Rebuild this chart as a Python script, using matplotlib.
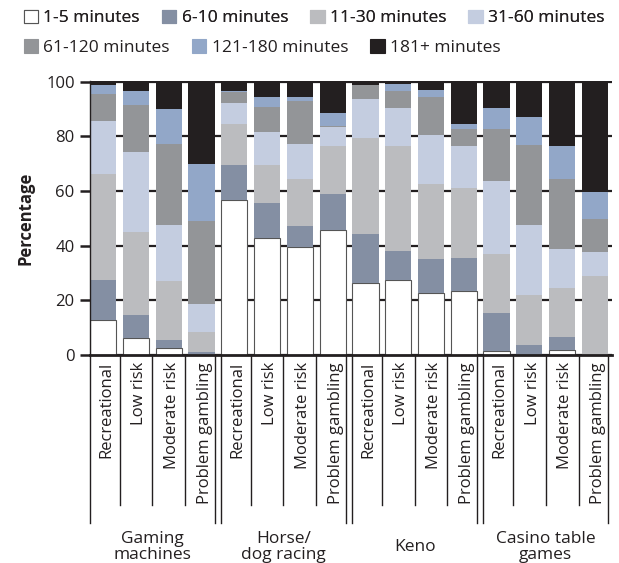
import numpy as np
import matplotlib
matplotlib.use("Agg")
import matplotlib.pyplot as plt
from matplotlib.patches import Patch

plt.rcParams['font.family'] = ['Open Sans', 'DejaVu Sans']

#### data ####
groups = ["Gaming\nmachines", "Horse/\ndog racing", "Keno", "Casino table\ngames"]
risk_levels = ["Recreational", "Low risk", "Moderate risk", "Problem gambling"]
durations = ["1-5 minutes", "6-10 minutes", "11-30 minutes", "31-60 minutes",
             "61-120 minutes", "121-180 minutes", "181+ minutes"]

# one list per duration band, 16 bars (4 groups x 4 risk levels)
min_1_5 = [12.8, 6.1, 2.7, 0.0, 56.7, 43.0, 39.6, 45.7,
           26.2, 27.6, 22.6, 23.5, 1.5, 0.0, 1.7, 0.0]
min_6_10 = [14.6, 8.5, 2.8, 1.2, 12.8, 12.7, 7.7, 13.3,
            18.1, 10.6, 12.6, 12.0, 14.0, 3.7, 4.9, 0.0]
min_11_30 = [38.8, 30.5, 21.6, 7.3, 15.0, 13.8, 17.1, 17.6,
             35.0, 38.3, 27.4, 25.6, 21.5, 18.3, 18.0, 28.9]
min_31_60 = [19.4, 29.3, 20.5, 10.3, 7.7, 12.2, 12.9, 6.9,
             14.4, 14.0, 17.9, 15.5, 26.7, 25.6, 14.2, 8.8]
min_61_120 = [9.9, 17.1, 29.6, 30.3, 4.1, 9.2, 15.6, 0.5,
              5.1, 6.2, 13.9, 6.1, 19.0, 29.2, 25.8, 12.1]
min_121_180 = [3.3, 5.1, 12.8, 20.8, 0.5, 3.5, 1.5, 4.7,
               0.0, 2.4, 2.6, 1.8, 7.7, 10.3, 11.9, 10.0]
min_181 = [1.2, 3.4, 10.0, 30.1, 3.2, 5.6, 5.6, 11.3,
           1.2, 0.9, 3.0, 15.5, 9.6, 12.9, 23.5, 40.2]

colors = ["#ffffff", "#848fa3", "#bbbcbf", "#c4cde0", "#939598", "#92a7c8", "#231f20"]

series = [min_1_5, min_6_10, min_11_30, min_31_60, min_61_120, min_121_180, min_181]

#### figure ####
fig = plt.figure(figsize=(6.19, 5.63), dpi=100)
ax = fig.add_axes([90 / 619, 1 - 355 / 563, (612 - 90) / 619, 274 / 563])

n_bars = len(groups) * len(risk_levels)
x = np.arange(n_bars)
bottom = np.zeros(n_bars)
for vals, c in zip(series, colors):
    vals = np.array(vals)
    if c == "#ffffff":
        ax.bar(x, vals, 0.8, bottom=bottom, color=c, edgecolor="#555555", linewidth=0.8, zorder=2)
    else:
        ax.bar(x, vals, 0.8, bottom=bottom, color=c, linewidth=0, zorder=2)
    bottom += vals

ax.set_xlim(-0.4, 15.52)
ax.set_ylim(0, 100.3)
ax.set_yticks([0, 20, 40, 60, 80, 100])
ax.set_xticks([])
ax.tick_params(axis='y', direction='out', length=7, width=1.8, color="#231f20",
               labelsize=12, labelcolor="#231f20", pad=4)
ax.yaxis.grid(True, color="#231f20", linewidth=1.6, zorder=0)
ax.set_axisbelow(True)
for s in ["top", "right"]:
    ax.spines[s].set_visible(False)
ax.spines["bottom"].set_linewidth(2)
ax.spines["bottom"].set_color("#231f20")
ax.spines["left"].set_linewidth(1)
ax.spines["left"].set_color("#231f20")
ax.set_ylabel("Percentage", fontsize=12, fontweight="bold", color="#231f20", labelpad=8)

# category axis below the plot
trans = ax.get_xaxis_transform()
sub_end = -0.547
grp_end = -0.613
lc = "#231f20"
for g in range(len(groups)):
    left = g * 4 - 0.41
    right = g * 4 + 3.41
    for xx in (left, right):
        ax.plot([xx, xx], [0, grp_end], transform=trans, color=lc, lw=1, clip_on=False)
    for k in range(1, 4):
        xx = g * 4 + k - 0.5
        ax.plot([xx, xx], [0, sub_end], transform=trans, color=lc, lw=1, clip_on=False)
    for k, lab in enumerate(risk_levels):
        ax.text(g * 4 + k + 0.1, -0.026, lab, transform=trans, rotation=90,
                ha="center", va="top", fontsize=12, color=lc)
    ax.text(g * 4 + 1.5, -0.70, groups[g], transform=trans, ha="center", va="center",
            fontsize=12.5, color=lc, linespacing=1.0)

# legend in two rows
handles = []
for lab, c in zip(durations, colors):
    ec = "#555555" if c == "#ffffff" else c
    handles.append(Patch(facecolor=c, edgecolor=ec, linewidth=0.8, label=lab))

leg_kw = dict(frameon=False, handlelength=0.85, handleheight=0.85, handletextpad=0.3,
              columnspacing=1.25, borderpad=0, borderaxespad=0, fontsize=12.5,
              labelcolor="#231f20")
leg1 = fig.legend(handles=handles[:4], loc="center left", bbox_to_anchor=(0.038, 0.968),
                  ncol=4, **leg_kw)
fig.add_artist(leg1)
fig.legend(handles=handles[4:], loc="center left", bbox_to_anchor=(0.038, 0.915),
           ncol=3, **leg_kw)

fig.savefig("out.png", dpi=100)
